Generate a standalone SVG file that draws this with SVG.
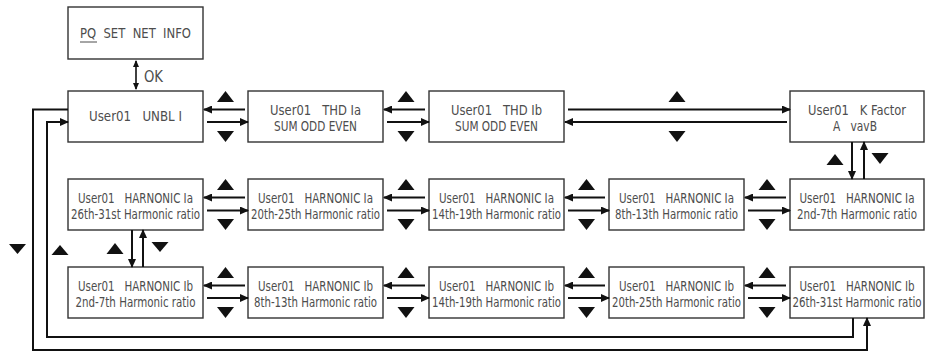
<svg xmlns="http://www.w3.org/2000/svg" width="930" height="352" viewBox="0 0 930 352">
<style>
.box{fill:#fff;stroke:#333;stroke-width:1.4}
.t{font-family:"DejaVu Sans Condensed","Liberation Sans",Arial,sans-serif;font-stretch:condensed;font-size:14px;fill:#4d4d4d;text-anchor:middle;white-space:pre}
.c{fill:none;stroke:#111;stroke-width:2}
.tri{fill:#111}
</style>
<defs>
<marker id="ah" markerUnits="userSpaceOnUse" markerWidth="9" markerHeight="8" refX="8" refY="4" orient="auto"><path d="M0,0 L9,4 L0,8 z" fill="#111"/></marker>
<marker id="ahs" markerUnits="userSpaceOnUse" markerWidth="7" markerHeight="6" refX="6" refY="3" orient="auto-start-reverse"><path d="M0,0 L7,3 L0,6 z" fill="#111"/></marker>
</defs>

<g id="pq">
<rect class="box" x="68" y="7" width="135" height="52"/>
<text class="t" x="135.5" y="38" textLength="111" lengthAdjust="spacingAndGlyphs">PQ  SET  NET  INFO</text>
<line x1="80" y1="42" x2="97" y2="42" stroke="#4d4d4d" stroke-width="1"/>
</g>
<g id="unbl">
<rect class="box" x="68" y="91" width="135" height="51"/>
<text class="t" x="135.5" y="121" textLength="93" lengthAdjust="spacingAndGlyphs">User01   UNBL I</text>
</g>
<g id="thdIa">
<rect class="box" x="248" y="91" width="135" height="51"/>
<text class="t" x="315.5" y="115" textLength="91" lengthAdjust="spacingAndGlyphs">User01   THD Ia</text>
<text class="t" x="315.5" y="131" textLength="83" lengthAdjust="spacingAndGlyphs">SUM ODD EVEN</text>
</g>
<g id="thdIb">
<rect class="box" x="429" y="91" width="135" height="51"/>
<text class="t" x="496.5" y="115" textLength="91" lengthAdjust="spacingAndGlyphs">User01   THD Ib</text>
<text class="t" x="496.5" y="131" textLength="83" lengthAdjust="spacingAndGlyphs">SUM ODD EVEN</text>
</g>
<g id="kfactor">
<rect class="box" x="790" y="91" width="134" height="51"/>
<text class="t" transform="translate(857,0) scale(0.8,1)" x="0" y="115" textLength="122.5" lengthAdjust="spacingAndGlyphs">User01   K Factor</text>
<text class="t" transform="translate(855,0) scale(0.8,1)" x="0" y="131" textLength="55" lengthAdjust="spacingAndGlyphs">A   vavB</text>
</g>

<g id="ia26">
<rect class="box" x="68" y="179" width="135" height="51"/>
<text class="t" x="135.5" y="203" textLength="115" lengthAdjust="spacingAndGlyphs">User01   HARNONIC Ia</text>
<text class="t" x="135.5" y="219" textLength="129" lengthAdjust="spacingAndGlyphs">26th-31st Harmonic ratio</text>
</g>
<g id="ia20">
<rect class="box" x="248" y="179" width="135" height="51"/>
<text class="t" x="315.5" y="203" textLength="115" lengthAdjust="spacingAndGlyphs">User01   HARNONIC Ia</text>
<text class="t" x="315.5" y="219" textLength="129" lengthAdjust="spacingAndGlyphs">20th-25th Harmonic ratio</text>
</g>
<g id="ia14">
<rect class="box" x="429" y="179" width="135" height="51"/>
<text class="t" x="496.5" y="203" textLength="115" lengthAdjust="spacingAndGlyphs">User01   HARNONIC Ia</text>
<text class="t" x="496.5" y="219" textLength="129" lengthAdjust="spacingAndGlyphs">14th-19th Harmonic ratio</text>
</g>
<g id="ia8">
<rect class="box" x="609" y="179" width="135" height="51"/>
<text class="t" x="676.5" y="203" textLength="115" lengthAdjust="spacingAndGlyphs">User01   HARNONIC Ia</text>
<text class="t" x="676.5" y="219" textLength="123" lengthAdjust="spacingAndGlyphs">8th-13th Harmonic ratio</text>
</g>
<g id="ia2">
<rect class="box" x="790" y="179" width="134" height="51"/>
<text class="t" transform="translate(857,0) scale(0.8,1)" x="0" y="203" textLength="143.75" lengthAdjust="spacingAndGlyphs">User01   HARNONIC Ia</text>
<text class="t" transform="translate(857,0) scale(0.8,1)" x="0" y="219" textLength="150" lengthAdjust="spacingAndGlyphs">2nd-7th Harmonic ratio</text>
</g>

<g id="ib2">
<rect class="box" x="68" y="267" width="135" height="51"/>
<text class="t" x="135.5" y="291" textLength="115" lengthAdjust="spacingAndGlyphs">User01   HARNONIC Ib</text>
<text class="t" x="135.5" y="307" textLength="120" lengthAdjust="spacingAndGlyphs">2nd-7th Harmonic ratio</text>
</g>
<g id="ib8">
<rect class="box" x="248" y="267" width="135" height="51"/>
<text class="t" x="315.5" y="291" textLength="115" lengthAdjust="spacingAndGlyphs">User01   HARNONIC Ib</text>
<text class="t" x="315.5" y="307" textLength="123" lengthAdjust="spacingAndGlyphs">8th-13th Harmonic ratio</text>
</g>
<g id="ib14">
<rect class="box" x="429" y="267" width="135" height="51"/>
<text class="t" x="496.5" y="291" textLength="115" lengthAdjust="spacingAndGlyphs">User01   HARNONIC Ib</text>
<text class="t" x="496.5" y="307" textLength="129" lengthAdjust="spacingAndGlyphs">14th-19th Harmonic ratio</text>
</g>
<g id="ib20">
<rect class="box" x="609" y="267" width="135" height="51"/>
<text class="t" x="676.5" y="291" textLength="115" lengthAdjust="spacingAndGlyphs">User01   HARNONIC Ib</text>
<text class="t" x="676.5" y="307" textLength="129" lengthAdjust="spacingAndGlyphs">20th-25th Harmonic ratio</text>
</g>
<g id="ib26">
<rect class="box" x="790" y="267" width="134" height="51"/>
<text class="t" transform="translate(857,0) scale(0.8,1)" x="0" y="291" textLength="143.75" lengthAdjust="spacingAndGlyphs">User01   HARNONIC Ib</text>
<text class="t" transform="translate(857,0) scale(0.8,1)" x="0" y="307" textLength="161.25" lengthAdjust="spacingAndGlyphs">26th-31st Harmonic ratio</text>
</g>

<g id="connectors">
<path class="c" style="stroke-width:1.6" d="M136,61 L136,89" marker-start="url(#ahs)" marker-end="url(#ahs)"/>
<text class="t" x="144" y="82" style="text-anchor:start;font-size:15.5px" textLength="19" lengthAdjust="spacingAndGlyphs">OK</text>

<path class="c" d="M245,109.5 L204,109.5" marker-end="url(#ah)"/>
<path class="c" d="M207,122 L248,122" marker-end="url(#ah)"/>
<path class="c" d="M425,109.5 L384,109.5" marker-end="url(#ah)"/>
<path class="c" d="M387,122 L429,122" marker-end="url(#ah)"/>
<path class="c" d="M568,109.5 L790,109.5" marker-end="url(#ah)"/>
<path class="c" d="M787,122 L565,122" marker-end="url(#ah)"/>

<path class="c" d="M245,197.5 L204,197.5" marker-end="url(#ah)"/>
<path class="c" d="M207,210.5 L248,210.5" marker-end="url(#ah)"/>
<path class="c" d="M425,197.5 L384,197.5" marker-end="url(#ah)"/>
<path class="c" d="M387,210.5 L429,210.5" marker-end="url(#ah)"/>
<path class="c" d="M605,197.5 L565,197.5" marker-end="url(#ah)"/>
<path class="c" d="M568,210.5 L609,210.5" marker-end="url(#ah)"/>
<path class="c" d="M786,197.5 L745,197.5" marker-end="url(#ah)"/>
<path class="c" d="M748,210.5 L790,210.5" marker-end="url(#ah)"/>

<path class="c" d="M245,285.5 L204,285.5" marker-end="url(#ah)"/>
<path class="c" d="M207,298 L248,298" marker-end="url(#ah)"/>
<path class="c" d="M425,285.5 L384,285.5" marker-end="url(#ah)"/>
<path class="c" d="M387,298 L429,298" marker-end="url(#ah)"/>
<path class="c" d="M605,285.5 L565,285.5" marker-end="url(#ah)"/>
<path class="c" d="M568,298 L609,298" marker-end="url(#ah)"/>
<path class="c" d="M786,285.5 L745,285.5" marker-end="url(#ah)"/>
<path class="c" d="M748,298 L790,298" marker-end="url(#ah)"/>

<path class="c" d="M852,142 L852,179" marker-end="url(#ah)"/>
<path class="c" d="M864,179 L864,142" marker-end="url(#ah)"/>
<path class="c" d="M132,230 L132,267" marker-end="url(#ah)"/>
<path class="c" d="M143,267 L143,230" marker-end="url(#ah)"/>

<path class="c" d="M68,109.5 L33,109.5 L33,350 L867,350 L867,318" marker-end="url(#ah)"/>
<path class="c" d="M853,318 L853,337 L47,337 L47,122 L68,122" marker-end="url(#ah)"/>

<g class="tri">
<polygon points="217,102 225.5,91 234,102"/><polygon points="217,131 234,131 225.5,142"/>
<polygon points="397.5,102 406,91 414.5,102"/><polygon points="397.5,131 414.5,131 406,142"/>
<polygon points="668.5,102 677,91 685.5,102"/><polygon points="668.5,131 685.5,131 677,142"/>

<polygon points="217,190 225.5,179 234,190"/><polygon points="217,219 234,219 225.5,230"/>
<polygon points="397.5,190 406,179 414.5,190"/><polygon points="397.5,219 414.5,219 406,230"/>
<polygon points="578,190 586.5,179 595,190"/><polygon points="578,219 595,219 586.5,230"/>
<polygon points="758.5,190 767,179 775.5,190"/><polygon points="758.5,219 775.5,219 767,230"/>

<polygon points="217,278 225.5,267 234,278"/><polygon points="217,307 234,307 225.5,318"/>
<polygon points="397.5,278 406,267 414.5,278"/><polygon points="397.5,307 414.5,307 406,318"/>
<polygon points="578,278 586.5,267 595,278"/><polygon points="578,307 595,307 586.5,318"/>
<polygon points="758.5,278 767,267 775.5,278"/><polygon points="758.5,307 775.5,307 767,318"/>

<polygon points="826.5,165 835,154 843.5,165"/><polygon points="871.5,153 888.5,153 880,164"/>
<polygon points="106.5,254 115,243 123.5,254"/><polygon points="151.5,242 168.5,242 160,252"/>
<polygon points="9,244 26,244 17.5,254"/><polygon points="51.5,255 60,245 68.5,255"/>
</g>
</g>
</svg>
